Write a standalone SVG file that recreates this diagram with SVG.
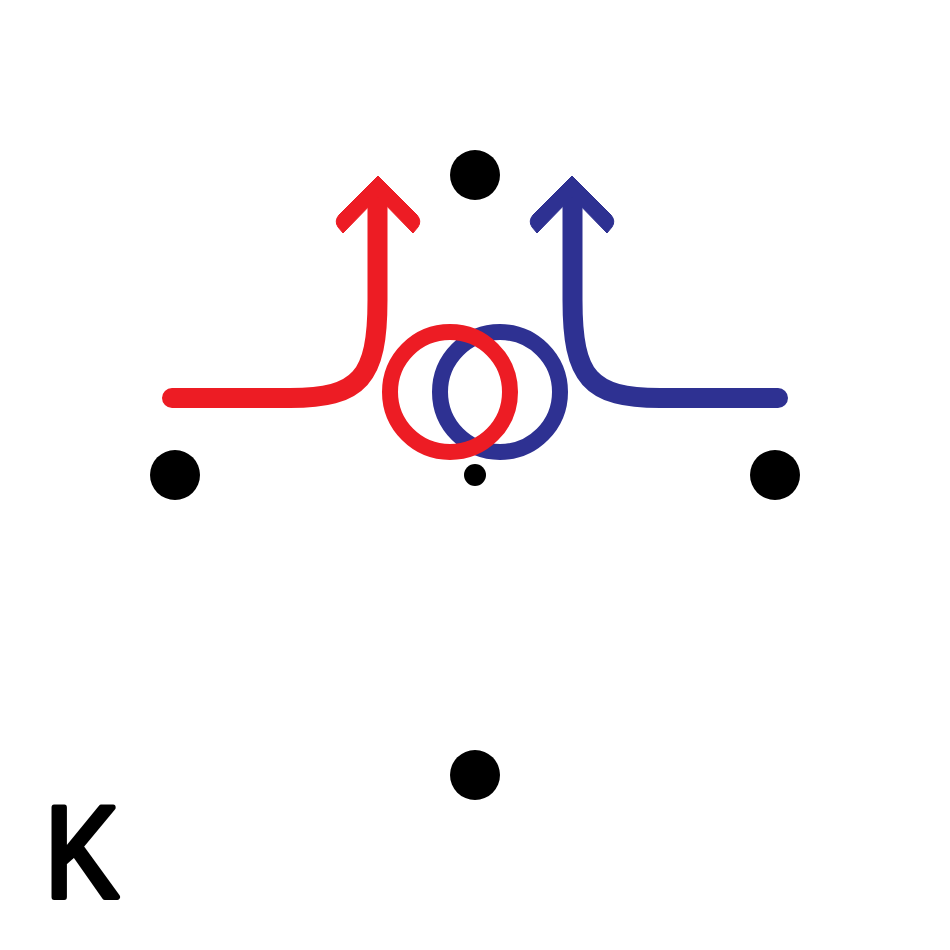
<svg xmlns="http://www.w3.org/2000/svg" xmlns:xlink="http://www.w3.org/1999/xlink" width="950" height="950" viewBox="0 0 950 950">
  <style>
    .dot { fill: #000000; }
    .ring { fill: none; stroke-width: 16; }
    .shaft { fill: none; stroke-width: 20; stroke-linecap: round; }
    .red { stroke: #ED1C24; }
    .blue { stroke: #2E3192; }
    .label { font-family: "Liberation Sans", Arial, sans-serif; font-size: 130px; fill: #000; stroke: #000; stroke-width: 6; stroke-linejoin: round; }
  </style>
  <defs>
    <g id="arrow">
      <path class="shaft" d="M172,398 L290,398 C360,398 377.5,378 377.5,300 L377.5,200"/>
      <path d="M378,176 L417,215 Q422,221 418,227 L413,233 L378,197 L343,233 L338,227 Q334,221 339,215 Z"/>
    </g>
  </defs>
  <rect width="950" height="950" fill="#ffffff"/>
  <g id="dots">
    <circle id="dot-top" class="dot" cx="475" cy="175" r="25"/>
    <circle id="dot-left" class="dot" cx="175" cy="475" r="25"/>
    <circle id="dot-right" class="dot" cx="775" cy="475" r="25"/>
    <circle id="dot-bottom" class="dot" cx="475" cy="775" r="25"/>
    <circle id="dot-center" class="dot" cx="475" cy="475" r="11"/>
  </g>
  <g id="connectors">
    <use id="arrow-red" xlink:href="#arrow" href="#arrow" class="red" fill="#ED1C24" stroke="#ED1C24"/>
    <use id="arrow-blue" xlink:href="#arrow" href="#arrow" class="blue" fill="#2E3192" stroke="#2E3192" transform="translate(950,0) scale(-1,1)"/>
  </g>
  <g id="rings">
    <circle id="ring-blue" class="ring blue" cx="500" cy="392" r="60"/>
    <circle id="ring-red" class="ring red" cx="450" cy="392" r="60"/>
  </g>
  <g id="label-k" transform="translate(45,897) scale(0.85,1)">
    <text class="label" x="0" y="0">K</text>
  </g>
</svg>
